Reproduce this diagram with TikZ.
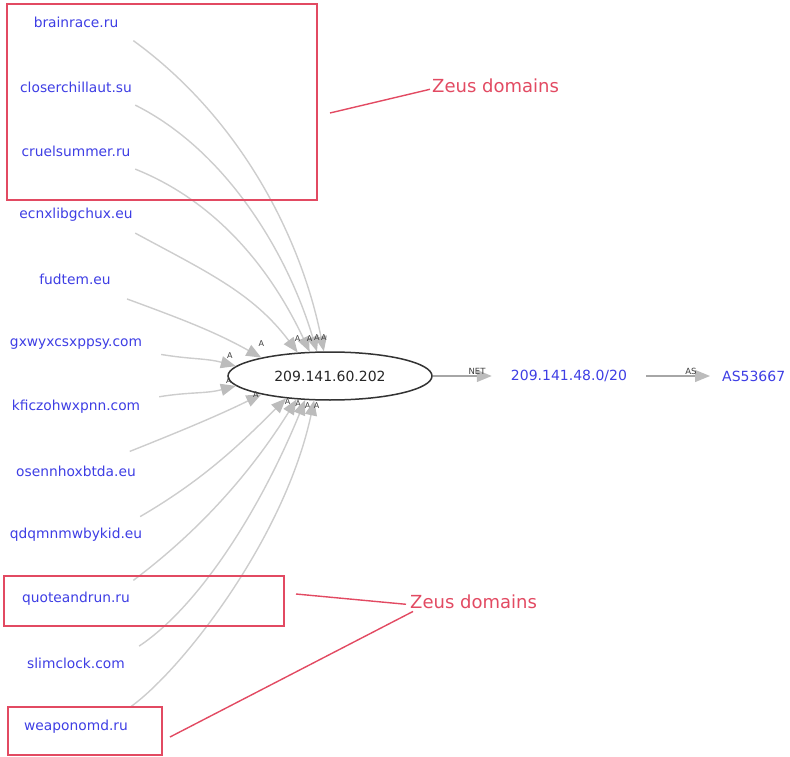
\documentclass[tikz,border=0pt]{standalone}
\usepackage{fontspec}
\setmainfont{DejaVu Sans}
\usetikzlibrary{arrows.meta,shapes.geometric}
\definecolor{domc}{RGB}{62,62,228}
\definecolor{zeusc}{RGB}{226,74,98}
\definecolor{edgec}{RGB}{205,205,205}
\definecolor{headc}{RGB}{188,188,188}
\definecolor{labc}{RGB}{60,60,60}
\begin{document}
\begin{tikzpicture}[x=1pt,y=-1pt,
  dom/.style={ellipse, draw=none, minimum width=170pt, minimum height=50pt, inner sep=0pt,
    text=domc, font=\fontsize{13.8}{15}\selectfont},
  ipnode/.style={ellipse, draw=black!80, line width=1.5pt, minimum width=204pt, minimum height=48pt,
    inner sep=0pt, font=\fontsize{14}{16}\selectfont, text=black!85},
  txt/.style={text=domc, font=\fontsize{14}{16}\selectfont, inner ysep=2pt},
  lnk/.style={draw=edgec, line width=1.4pt, -{Triangle[length=15pt,width=12pt,color=headc]}},
  rlnk/.style={draw=black!35, line width=1.2pt, -{Triangle[length=15pt,width=12pt,color=headc]}},
  alab/.style={font=\fontsize{8}{9}\selectfont, text=labc, inner sep=0pt},
  elab/.style={font=\fontsize{8.5}{9}\selectfont, text=labc, inner sep=1pt},
  zbox/.style={draw=zeusc, line width=1.5pt, inner sep=0pt},
  zline/.style={draw=zeusc, line width=1.4pt},
  ztxt/.style={text=zeusc, font=\fontsize{18}{20}\selectfont, inner sep=0pt}
]
\useasboundingbox (0,0) rectangle (790,757);

% domain nodes
\node[dom] (d1)  at (76,22)  {brainrace.ru};
\node[dom] (d2)  at (76,87)  {closerchillaut.su};
\node[dom] (d3)  at (76,151) {cruelsummer.ru};
\node[dom] (d4)  at (76,215) {ecnxlibgchux.eu};
\node[dom] (d5)  at (75,279) {fudtem.eu};
\node[dom] (d6)  at (76,344) {gxwyxcsxppsy.com};
\node[dom] (d7)  at (76,407) {kficzohwxpnn.com};
\node[dom] (d8)  at (76,471) {osennhoxbtda.eu};
\node[dom] (d9)  at (76,535) {qdqmnmwbykid.eu};
\node[dom] (d10) at (76,599) {quoteandrun.ru};
\node[dom] (d11) at (76,663) {slimclock.com};
\node[dom] (d12) at (76,727) {weaponomd.ru};

% central node
\node[ipnode] (ip) at (330,376) {209.141.60.202};
\node[txt, inner xsep=19pt] (net) at (569,376) {209.141.48.0/20};
\node[txt, inner xsep=12pt, anchor=west] (as) at (710,376) {AS53667};

% edges into the central node
\draw[lnk] (d1.-18)  .. controls +(110,80) and +(-22,-110) .. (ip.104) node[alab, pos=1, anchor=south, yshift=10pt] {A};
\draw[lnk] (d2.-17)  .. controls +(90,45)  and +(-30,-100) .. (ip.118) node[alab, pos=1, anchor=south, yshift=10pt] {A};
\draw[lnk] (d3.-17)  .. controls +(80,32)  and +(-40,-85)  .. (ip.130) node[alab, pos=1, anchor=south, yshift=10pt] {A};
\draw[lnk] (d4.-17)  .. controls +(70,38)  and +(-45,-60)  .. (ip.144) node[alab, pos=1, anchor=south, yshift=10pt] {A};
\draw[lnk] (d5.-21)  .. controls +(60,22)  and +(-45,-25)  .. (ip.165) node[alab, pos=1, anchor=south, yshift=10pt] {A};
\draw[lnk] (d6.-7)   .. controls +(30,5)   and +(-30,-8)   .. (ip.174) node[alab, pos=1, anchor=south, yshift=7pt, xshift=-6pt] {A};
\draw[lnk] (d7.7)    .. controls +(30,-5)  and +(-30,8)    .. (ip.186) node[alab, pos=1, anchor=south, yshift=2pt, xshift=-7pt] {A};
\draw[lnk] (d8.20)   .. controls +(50,-20) and +(-45,22)   .. (ip.195) node[alab, pos=1, anchor=east, xshift=-2pt] {A};
\draw[lnk] (d9.16)   .. controls +(60,-35) and +(-50,50)   .. (ip.207) node[alab, pos=1, anchor=south west, xshift=-2pt, yshift=-7pt] {A};
\draw[lnk] (d10.18)  .. controls +(60,-45) and +(-50,80)   .. (ip.215) node[alab, pos=1, anchor=south west, xshift=-2pt, yshift=-8pt] {A};
\draw[lnk] (d11.15)  .. controls +(60,-40) and +(-45,110)  .. (ip.224) node[alab, pos=1, anchor=south west, xshift=-1pt, yshift=-9pt] {A};
\draw[lnk] (d12.20)  .. controls +(50,-35) and +(-30,140)  .. (ip.237) node[alab, pos=1, anchor=south west, xshift=-1pt, yshift=-9pt] {A};

% chain to the right
\draw[rlnk] (ip.east) -- (net.west) node[elab, pos=0.75, above] {NET};
\draw[rlnk] (net.east) -- (as.west) node[elab, pos=0.7, above] {AS};

% Zeus annotations
\node[zbox, minimum width=310pt, minimum height=196pt] (b1) at (162,102) {};
\node[zbox, minimum width=280pt, minimum height=50pt] (b2) at (144,601) {};
\node[zbox, minimum width=154pt, minimum height=48pt] (b3) at (85,731) {};
\node[ztxt, anchor=base west] (z1) at (432,93) {Zeus domains};
\node[ztxt, anchor=base west] (z2) at (410,608) {Zeus domains};
\coordinate (z1s) at (330,113);
\coordinate (z2s) at (296,594);
\coordinate (z3s) at (170,737);
\draw[zline] (z1s) -- ([xshift=-2pt,yshift=-3pt]z1.west);
\draw[zline] (z2s) -- ([xshift=-4pt,yshift=-3pt]z2.west);
\draw[zline] (z3s) -- ([xshift=3pt,yshift=-3pt]z2.south west);
\end{tikzpicture}
\end{document}
